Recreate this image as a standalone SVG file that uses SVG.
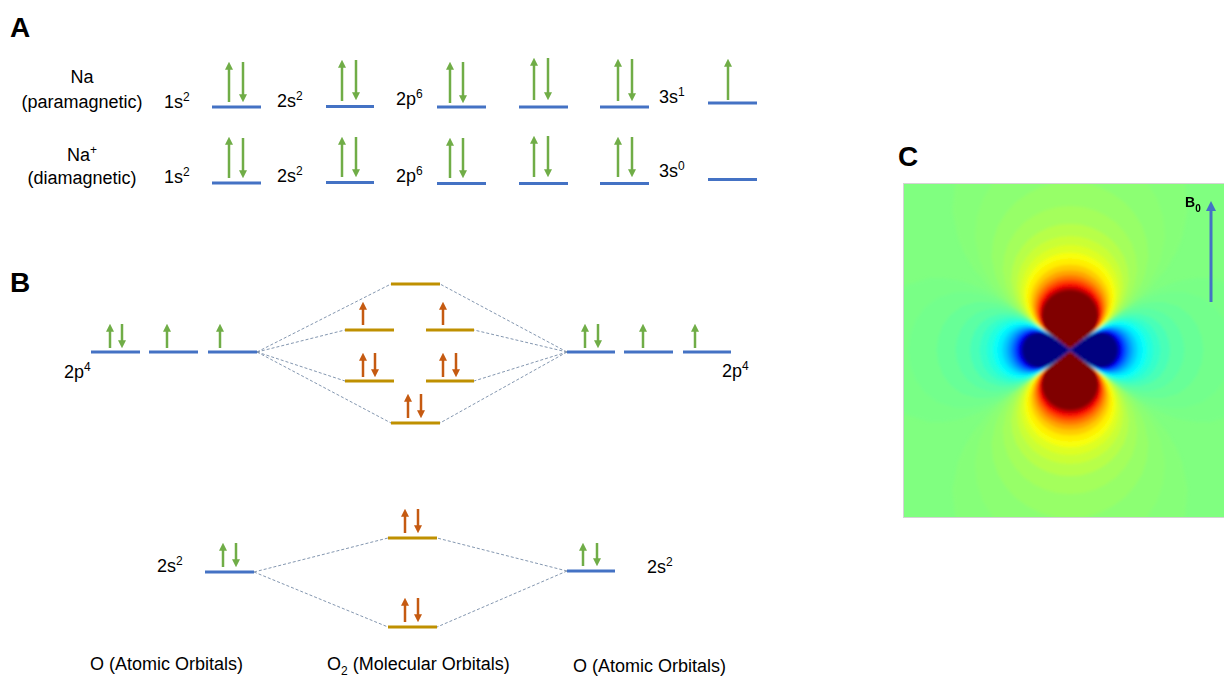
<svg xmlns="http://www.w3.org/2000/svg" xmlns:xlink="http://www.w3.org/1999/xlink" width="1224" height="677" viewBox="0 0 1224 677">
<style>
  .t{font-family:"Liberation Sans",Arial,sans-serif;font-size:18px;fill:#000}
  .sup{font-size:12px}
  .lab{font-family:"Liberation Sans",Arial,sans-serif;font-weight:bold;font-size:28px;fill:#000}
  .ao{stroke:#4472c4;stroke-width:3;fill:none}
  .mo{stroke:#bf9000;stroke-width:3;fill:none}
  .eg{stroke:#70ad47;stroke-width:2.5;fill:none;marker-end:url(#hg)}
  .eo{stroke:#c55a11;stroke-width:2.5;fill:none;marker-end:url(#ho)}
  .cn{stroke:#8497b0;stroke-width:1;stroke-dasharray:3 2;fill:none}
</style>
<defs>
  <marker id="hg" viewBox="0 0 10 10" refX="1" refY="5" markerWidth="8" markerHeight="8" markerUnits="userSpaceOnUse" orient="auto">
    <path d="M0,0 L10,5 L0,10 Z" fill="#70ad47"/>
  </marker>
  <marker id="ho" viewBox="0 0 10 10" refX="1" refY="5" markerWidth="8" markerHeight="8" markerUnits="userSpaceOnUse" orient="auto">
    <path d="M0,0 L10,5 L0,10 Z" fill="#c55a11"/>
  </marker>
  <marker id="hb" viewBox="0 0 10 10" refX="1" refY="5" markerWidth="10" markerHeight="10" markerUnits="userSpaceOnUse" orient="auto">
    <path d="M0,0 L10,5 L0,10 Z" fill="#4472c4"/>
  </marker>

  <!-- dipolar field contour, positive lobe (3cos²θ-1)/r³ = const -->
  <path id="lp" d="M0,0 L12.8,-9.3 L16.9,-12.7 L19.4,-15.1 L22.7,-19 L25.2,-23.1 L26.7,-26.7 L28,-33.3 L27.4,-39.2 L25.7,-44.4 L22.8,-49 L19.3,-52.9 L15,-55.9 L10.3,-58.2 L5.2,-59.6 L0,-60 L-5.2,-59.6 L-10.3,-58.2 L-15,-55.9 L-19.3,-52.9 L-22.8,-49 L-25.7,-44.4 L-27.4,-39.2 L-28,-33.3 L-26.7,-26.7 L-25.2,-23.1 L-22.7,-19 L-19.4,-15.1 L-16.9,-12.7 L-12.8,-9.3 Z"/>
  <!-- negative lobe (left side) -->
  <path id="lb" d="M0,0 L-9.2,-6.4 L-15.6,-10.5 L-19.1,-12.4 L-22.9,-14 L-26,-15 L-30.1,-15.6 L-33.4,-15.6 L-38.7,-14.1 L-42.7,-11.4 L-45.4,-8 L-47,-4.1 L-47.6,0 L-47,4.1 L-45.4,8 L-42.7,11.4 L-38.7,14.1 L-33.4,15.6 L-30.1,15.6 L-26,15 L-22.9,14 L-19.1,12.4 L-15.6,10.5 L-9.2,6.4 Z"/>

  <!-- jet colour levels, outermost first -->
  <g id="pos">
    <use xlink:href="#lp" transform="scale(4.2)" fill="#86ff79"/>
    <use xlink:href="#lp" transform="scale(3.4)" fill="#8cff73"/>
    <use xlink:href="#lp" transform="scale(2.8)" fill="#97ff68"/>
    <use xlink:href="#lp" transform="scale(2.4)" fill="#a4ff5b"/>
    <use xlink:href="#lp" transform="scale(2.1)" fill="#b7ff48"/>
    <use xlink:href="#lp" transform="scale(1.9)" fill="#caff35"/>
    <use xlink:href="#lp" transform="scale(1.75)" fill="#deff21"/>
    <use xlink:href="#lp" transform="scale(1.62)" fill="#f8ff07"/>
    <use xlink:href="#lp" transform="scale(1.52)" fill="#ffee00"/>
    <use xlink:href="#lp" transform="scale(1.42)" fill="#ffcc00"/>
    <use xlink:href="#lp" transform="scale(1.33)" fill="#ffa500"/>
    <use xlink:href="#lp" transform="scale(1.25)" fill="#ff7900"/>
    <use xlink:href="#lp" transform="scale(1.18)" fill="#ff4800"/>
    <use xlink:href="#lp" transform="scale(1.12)" fill="#ff1300"/>
    <use xlink:href="#lp" transform="scale(1.08)" fill="#e80000"/>
    <use xlink:href="#lp" transform="scale(1.04)" fill="#b90000"/>
    <use xlink:href="#lp" fill="#800000"/>
  </g>
  <g id="neg">
    <use xlink:href="#lb" transform="scale(4.2)" fill="#79ff86"/>
    <use xlink:href="#lb" transform="scale(3.4)" fill="#73ff8c"/>
    <use xlink:href="#lb" transform="scale(2.8)" fill="#68ff97"/>
    <use xlink:href="#lb" transform="scale(2.4)" fill="#5bffa4"/>
    <use xlink:href="#lb" transform="scale(2.1)" fill="#48ffb7"/>
    <use xlink:href="#lb" transform="scale(1.9)" fill="#35ffca"/>
    <use xlink:href="#lb" transform="scale(1.75)" fill="#21ffde"/>
    <use xlink:href="#lb" transform="scale(1.62)" fill="#07fff8"/>
    <use xlink:href="#lb" transform="scale(1.52)" fill="#00eeff"/>
    <use xlink:href="#lb" transform="scale(1.42)" fill="#00ccff"/>
    <use xlink:href="#lb" transform="scale(1.33)" fill="#00a5ff"/>
    <use xlink:href="#lb" transform="scale(1.25)" fill="#0079ff"/>
    <use xlink:href="#lb" transform="scale(1.18)" fill="#0048ff"/>
    <use xlink:href="#lb" transform="scale(1.12)" fill="#0013ff"/>
    <use xlink:href="#lb" transform="scale(1.08)" fill="#0000e8"/>
    <use xlink:href="#lb" transform="scale(1.04)" fill="#0000b9"/>
    <use xlink:href="#lb" fill="#000080"/>
  </g>

  <clipPath id="cclip"><rect x="903" y="183" width="321" height="335"/></clipPath>
  <filter id="soft" filterUnits="userSpaceOnUse" x="850" y="100" width="420" height="500">
    <feGaussianBlur stdDeviation="1.4"/>
  </filter>
</defs>

<rect width="1224" height="677" fill="#ffffff"/>

<!-- panel letters -->
<text class="lab" x="10" y="37">A</text>
<text class="lab" x="10" y="292">B</text>
<text class="lab" x="898" y="166">C</text>

<!-- ===== Panel A : Na / Na+ configurations ===== -->
<g id="na-label">
  <text class="t" x="82" y="83" text-anchor="middle">Na</text>
  <text class="t" x="82" y="108" text-anchor="middle">(paramagnetic)</text>
</g>
<g id="na-1s">
  <text class="t" x="164" y="108">1s<tspan class="sup" dy="-7">2</tspan></text>
  <line class="ao" x1="212" y1="107" x2="261" y2="107"/>
  <line class="eg" x1="229" y1="102" x2="229" y2="69"/>
  <line class="eg" x1="243" y1="62" x2="243" y2="95"/>
</g>
<g id="na-2s">
  <text class="t" x="277" y="107">2s<tspan class="sup" dy="-7">2</tspan></text>
  <line class="ao" x1="326" y1="106.5" x2="374" y2="106.5"/>
  <line class="eg" x1="342" y1="101" x2="342" y2="67"/>
  <line class="eg" x1="356" y1="60" x2="356" y2="93"/>
</g>
<g id="na-2p">
  <text class="t" x="396" y="105">2p<tspan class="sup" dy="-7">6</tspan></text>
  <line class="ao" x1="437" y1="107" x2="486" y2="107"/>
  <line class="eg" x1="450" y1="103" x2="450" y2="69"/>
  <line class="eg" x1="463" y1="62" x2="463" y2="96"/>
  <line class="ao" x1="519" y1="107" x2="568" y2="107"/>
  <line class="eg" x1="534" y1="100" x2="534" y2="65"/>
  <line class="eg" x1="548" y1="58" x2="548" y2="93"/>
  <line class="ao" x1="600" y1="107" x2="649" y2="107"/>
  <line class="eg" x1="618" y1="101" x2="618" y2="66"/>
  <line class="eg" x1="632" y1="59" x2="632" y2="94"/>
</g>
<g id="na-3s">
  <text class="t" x="659" y="103">3s<tspan class="sup" dy="-7">1</tspan></text>
  <line class="ao" x1="708" y1="103" x2="757" y2="103"/>
  <line class="eg" x1="728" y1="100" x2="728" y2="66"/>
</g>

<g id="naplus-label">
  <text class="t" x="82" y="161" text-anchor="middle">Na<tspan class="sup" dy="-7">+</tspan></text>
  <text class="t" x="82" y="184" text-anchor="middle">(diamagnetic)</text>
</g>
<g id="naplus-1s">
  <text class="t" x="164" y="183">1s<tspan class="sup" dy="-7">2</tspan></text>
  <line class="ao" x1="212" y1="183" x2="261" y2="183"/>
  <line class="eg" x1="229" y1="178" x2="229" y2="144"/>
  <line class="eg" x1="243" y1="138" x2="243" y2="171"/>
</g>
<g id="naplus-2s">
  <text class="t" x="277" y="182">2s<tspan class="sup" dy="-7">2</tspan></text>
  <line class="ao" x1="326" y1="182.5" x2="374" y2="182.5"/>
  <line class="eg" x1="342" y1="177" x2="342" y2="144"/>
  <line class="eg" x1="356" y1="137" x2="356" y2="170"/>
</g>
<g id="naplus-2p">
  <text class="t" x="396" y="182">2p<tspan class="sup" dy="-7">6</tspan></text>
  <line class="ao" x1="437" y1="183.5" x2="486" y2="183.5"/>
  <line class="eg" x1="450" y1="178" x2="450" y2="145"/>
  <line class="eg" x1="463" y1="138" x2="463" y2="171"/>
  <line class="ao" x1="519" y1="183.5" x2="568" y2="183.5"/>
  <line class="eg" x1="534" y1="177" x2="534" y2="143"/>
  <line class="eg" x1="548" y1="136" x2="548" y2="170"/>
  <line class="ao" x1="600" y1="183.5" x2="649" y2="183.5"/>
  <line class="eg" x1="618" y1="177" x2="618" y2="144"/>
  <line class="eg" x1="632" y1="137" x2="632" y2="170"/>
</g>
<g id="naplus-3s">
  <text class="t" x="659" y="177">3s<tspan class="sup" dy="-7">0</tspan></text>
  <line class="ao" x1="708" y1="179.5" x2="757" y2="179.5"/>
</g>

<!-- ===== Panel B : O2 molecular orbital diagram ===== -->
<g id="connectors">
  <line class="cn" x1="257" y1="352" x2="391" y2="284"/>
  <line class="cn" x1="257" y1="352" x2="345" y2="330"/>
  <line class="cn" x1="257" y1="352" x2="345" y2="381"/>
  <line class="cn" x1="257" y1="352" x2="391" y2="423"/>
  <line class="cn" x1="567" y1="352" x2="440" y2="284"/>
  <line class="cn" x1="567" y1="352" x2="474" y2="330"/>
  <line class="cn" x1="567" y1="352" x2="474" y2="381"/>
  <line class="cn" x1="567" y1="352" x2="440" y2="423"/>
  <line class="cn" x1="254" y1="572" x2="388" y2="538"/>
  <line class="cn" x1="254" y1="572" x2="388" y2="627"/>
  <line class="cn" x1="567" y1="571" x2="437" y2="538"/>
  <line class="cn" x1="567" y1="571" x2="437" y2="627"/>
</g>

<g id="o-left-2p">
  <text class="t" x="64" y="378">2p<tspan class="sup" dy="-7">4</tspan></text>
  <line class="ao" x1="91" y1="352" x2="140" y2="352"/>
  <line class="eg" x1="110" y1="348" x2="110" y2="331"/>
  <line class="eg" x1="122" y1="324" x2="122" y2="341"/>
  <line class="ao" x1="149" y1="352" x2="198" y2="352"/>
  <line class="eg" x1="167" y1="348" x2="167" y2="331"/>
  <line class="ao" x1="208" y1="352" x2="257" y2="352"/>
  <line class="eg" x1="220" y1="348" x2="220" y2="331"/>
</g>
<g id="o-right-2p">
  <text class="t" x="722" y="377">2p<tspan class="sup" dy="-7">4</tspan></text>
  <line class="ao" x1="567" y1="352" x2="615" y2="352"/>
  <line class="eg" x1="585" y1="348" x2="585" y2="331"/>
  <line class="eg" x1="598" y1="324" x2="598" y2="341"/>
  <line class="ao" x1="624" y1="352" x2="673" y2="352"/>
  <line class="eg" x1="643" y1="348" x2="643" y2="331"/>
  <line class="ao" x1="683" y1="352" x2="731" y2="352"/>
  <line class="eg" x1="695" y1="348" x2="695" y2="331"/>
</g>
<g id="mo-sigma2p-star">
  <line class="mo" x1="391" y1="284" x2="440" y2="284"/>
</g>
<g id="mo-pi2p-star">
  <line class="mo" x1="345" y1="330" x2="394" y2="330"/>
  <line class="eo" x1="363" y1="325" x2="363" y2="309"/>
  <line class="mo" x1="426" y1="330" x2="474" y2="330"/>
  <line class="eo" x1="443" y1="325" x2="443" y2="309"/>
</g>
<g id="mo-pi2p">
  <line class="mo" x1="345" y1="381" x2="394" y2="381"/>
  <line class="eo" x1="363" y1="377" x2="363" y2="360"/>
  <line class="eo" x1="375" y1="353" x2="375" y2="370"/>
  <line class="mo" x1="426" y1="381" x2="474" y2="381"/>
  <line class="eo" x1="443" y1="377" x2="443" y2="360"/>
  <line class="eo" x1="456" y1="353" x2="456" y2="370"/>
</g>
<g id="mo-sigma2p">
  <line class="mo" x1="391" y1="423" x2="440" y2="423"/>
  <line class="eo" x1="408" y1="418" x2="408" y2="401"/>
  <line class="eo" x1="421" y1="394" x2="421" y2="411"/>
</g>

<g id="o-left-2s">
  <text class="t" x="157" y="572">2s<tspan class="sup" dy="-7">2</tspan></text>
  <line class="ao" x1="205" y1="572" x2="254" y2="572"/>
  <line class="eg" x1="223" y1="567" x2="223" y2="550"/>
  <line class="eg" x1="236" y1="543" x2="236" y2="560"/>
</g>
<g id="o-right-2s">
  <text class="t" x="647" y="573">2s<tspan class="sup" dy="-7">2</tspan></text>
  <line class="ao" x1="567" y1="571" x2="615" y2="571"/>
  <line class="eg" x1="583" y1="566" x2="583" y2="550"/>
  <line class="eg" x1="597" y1="543" x2="597" y2="559"/>
</g>
<g id="mo-sigma2s-star">
  <line class="mo" x1="388" y1="538" x2="437" y2="538"/>
  <line class="eo" x1="405" y1="533" x2="405" y2="516"/>
  <line class="eo" x1="418" y1="509" x2="418" y2="526"/>
</g>
<g id="mo-sigma2s">
  <line class="mo" x1="388" y1="627" x2="437" y2="627"/>
  <line class="eo" x1="405" y1="622" x2="405" y2="605"/>
  <line class="eo" x1="418" y1="598" x2="418" y2="615"/>
</g>

<g id="column-titles">
  <text class="t" x="90" y="670">O (Atomic Orbitals)</text>
  <text class="t" x="327" y="670">O<tspan class="sup" dy="5">2</tspan><tspan dy="-5"> (Molecular Orbitals)</tspan></text>
  <text class="t" x="573" y="672">O (Atomic Orbitals)</text>
</g>

<!-- ===== Panel C : dipolar field map ===== -->
<g id="field-map">
  <g clip-path="url(#cclip)">
    <rect x="903" y="183" width="321" height="335" fill="#80ff80"/>
    <g filter="url(#soft)">
      <use xlink:href="#pos" transform="translate(1070,350)"/>
      <use xlink:href="#pos" transform="translate(1070,350) scale(1,-1)"/>
      <use xlink:href="#neg" transform="translate(1070,350) scale(1,1.1)"/>
      <use xlink:href="#neg" transform="translate(1070,350) scale(-1,1.1)"/>
    </g>
  </g>
  <rect x="903.5" y="183.5" width="330" height="334" fill="none" stroke="#d4d4d4" stroke-width="1"/>
</g>
<g id="b0-arrow">
  <line x1="1211" y1="302" x2="1211" y2="210" stroke="#4472c4" stroke-width="3" marker-end="url(#hb)"/>
  <text x="1185" y="207" font-family="'Liberation Sans',Arial,sans-serif" font-weight="bold" font-size="14">B<tspan font-size="10" dy="5">0</tspan></text>
</g>
</svg>
